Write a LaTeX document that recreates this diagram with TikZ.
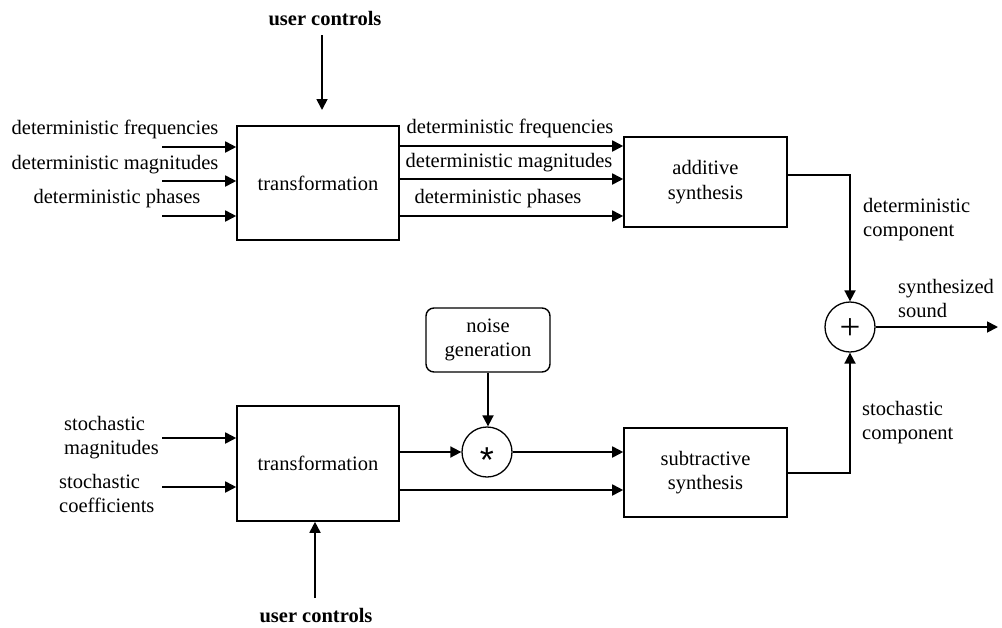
\documentclass[tikz,border=0pt]{standalone}
\usepackage{fontspec}
\setmainfont{Liberation Serif}
\newfontfamily\opsans{Liberation Sans}
\usetikzlibrary{arrows.meta}
\begin{document}
\begin{tikzpicture}[x=1pt,y=-1pt,
  every node/.style={font=\fontsize{20.5}{24.5}\selectfont, inner sep=0pt},
  blk/.style={draw, line width=1.6pt, minimum width=162pt, align=center},
  rblk/.style={draw, line width=1.4pt, rounded corners=8pt, minimum width=124pt, minimum height=64pt, align=center},
  op/.style={draw, circle, line width=1.3pt, minimum size=50pt},
  lbl/.style={align=left},
  arr/.style={line width=1.8pt, -{Triangle[length=11pt,width=11pt]}},
  ln/.style={line width=1.8pt}]
\useasboundingbox (0,0) rectangle (1002,627);

% blocks
\node[blk, minimum height=114pt] (T1) at (318,183) {transformation};
\node[blk, minimum height=90pt, minimum width=163pt] (A) at (705.5,182) {additive\\synthesis};
\node[blk, minimum height=115pt] (T2) at (318,463.5) {transformation};
\node[blk, minimum height=89pt, minimum width=163pt] (S) at (705.5,472.5) {subtractive\\synthesis};
\node[rblk] (N) at (488,340) {noise\\generation};
\node[op] (M) at (487,452) {\fontsize{36}{36}\selectfont\opsans\raisebox{-0.57em}[0pt][0pt]{*}};
\node[op] (P) at (850,327) {\fontsize{37}{37}\selectfont\raisebox{-0.33em}[0pt][0pt]{+}};

% labels
\node[anchor=base, font=\fontsize{20.5}{24.5}\selectfont\bfseries] (uc1) at (325,25) {user controls};
\node[anchor=base, font=\fontsize{20.5}{24.5}\selectfont\bfseries] (uc2) at (316,622) {user controls};
\node[anchor=base] (l1) at (115,134) {deterministic frequencies};
\node[anchor=base] (l2) at (115,169) {deterministic magnitudes};
\node[anchor=base] (l3) at (117,203) {deterministic phases};
\node[anchor=base] (m1) at (510,133) {deterministic frequencies};
\node[anchor=base] (m2) at (509,167) {deterministic magnitudes};
\node[anchor=base] (m3) at (498,203) {deterministic phases};
\node[lbl, anchor=west] (dc) at (863,219.5) {deterministic\\component};
\node[lbl, anchor=west] (ss) at (898,298.5) {synthesized\\sound};
\node[lbl, anchor=west] (sc) at (862,422.5) {stochastic\\component};
\node[lbl, anchor=west] (sm) at (64,437.5) {stochastic\\magnitudes};
\node[lbl, anchor=west] (sco) at (59,493.5) {stochastic\\coefficients};

% free ends
\coordinate (i1) at (162,147);
\coordinate (i2) at (162,181);
\coordinate (i3) at (162,216);
\coordinate (o1) at (0,146);
\coordinate (o2) at (0,179);
\coordinate (o3) at (0,216);
\coordinate (s1) at (162,438);
\coordinate (s2) at (162,487);
\coordinate (s3) at (0,490);
\coordinate (ya) at (0,175);
\coordinate (ys) at (0,473);
\coordinate (u1a) at (322,35);
\coordinate (u1b) at (322,110);
\coordinate (u2a) at (315,598);
\coordinate (out) at (998,327);

% connectors
\draw[arr] (u1a) -- (u1b);
\draw[arr] (u2a) -- (u2a |- T2.south);
\draw[arr] (i1) -- (i1 -| T1.west);
\draw[arr] (i2) -- (i2 -| T1.west);
\draw[arr] (i3) -- (i3 -| T1.west);
\draw[arr] (o1 -| T1.east) -- (o1 -| A.west);
\draw[arr] (o2 -| T1.east) -- (o2 -| A.west);
\draw[arr] (o3 -| T1.east) -- (o3 -| A.west);
\draw[arr] (ya -| A.east) -| (P.north);
\draw[arr] (ys -| S.east) -| (P.south);
\draw[arr] (P.east) -- (out);
\draw[arr] (s1) -- (s1 -| T2.west);
\draw[arr] (s2) -- (s2 -| T2.west);
\draw[arr] (N.south) -- (N.south |- M.north);
\draw[arr] (M.west -| T2.east) -- (M.west);
\draw[arr] (M.east) -- (M.east -| S.west);
\draw[arr] (s3 -| T2.east) -- (s3 -| S.west);
\end{tikzpicture}
\end{document}
